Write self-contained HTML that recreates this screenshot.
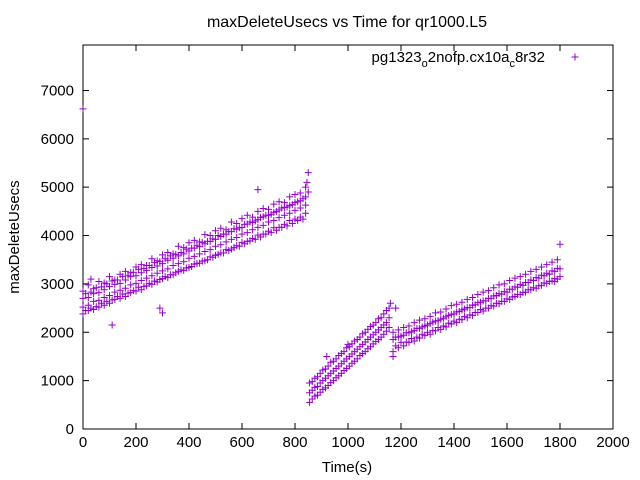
<!DOCTYPE html>
<html><head><meta charset="utf-8"><style>
html,body{margin:0;padding:0;background:#fff;}
svg{display:block;font-family:"Liberation Sans",sans-serif;}
</style></head><body>
<svg id="chart" width="640" height="480" viewBox="0 0 640 480" xmlns="http://www.w3.org/2000/svg">
<rect width="640" height="480" fill="#fff"/>
<text x="347" y="27" font-size="16" text-anchor="middle">maxDeleteUsecs vs Time for qr1000.L5</text>
<text x="347" y="472" font-size="15" text-anchor="middle">Time(s)</text>
<text transform="translate(19,237) rotate(-90)" font-size="15" text-anchor="middle">maxDeleteUsecs</text>
<g id="axes"></g>
<g id="points"></g>
<g>
<text x="545" y="62" font-size="15" text-anchor="end">pg1323<tspan font-size="11" dy="5">o</tspan><tspan dy="-5">2nofp.cx10a</tspan><tspan font-size="11" dy="5">c</tspan><tspan dy="-5">8r32</tspan></text>
<path d="M571.5,57h7M575,53.5v7" stroke="#9400d3" stroke-width="1"/>
</g>
</svg>
<script>
const xTicks=[0,200,400,600,800,1000,1200,1400,1600,1800,2000];
const yTicks=[0,1000,2000,3000,4000,5000,6000,7000];
const seg1X=[0,20,40,60,80,100,120,140,160,180,200,220,240,260,280,300,320,340,360,380,400,420,440,460,480,500,520,540,560,580,600,620,640,660,680,700,720,740,760,780,800,820,840];
const seg1A=[2850,2980,2900,3050,3020,3150,3080,3200,3260,3230,3350,3400,3380,3520,3480,3600,3650,3620,3780,3750,3850,3900,3870,4020,4000,4100,4150,4120,4280,4250,4350,4420,4380,4500,4560,4540,4650,4700,4680,4800,4850,4880,5000];
const seg1B=[2700,2720,2800,2820,2880,2950,2990,3010,3080,3150,3170,3230,3280,3340,3370,3420,3490,3530,3580,3620,3680,3740,3770,3830,3880,3920,3980,4030,4080,4130,4170,4240,4270,4330,4390,4420,4480,4530,4580,4620,4680,4720,4800];
const seg1C=[2520,2560,2640,2660,2720,2760,2830,2870,2910,2980,3010,3070,3120,3170,3220,3270,3310,3380,3420,3460,3530,3570,3620,3670,3710,3780,3810,3870,3920,3960,4030,4060,4120,4170,4210,4280,4310,4370,4420,4460,4520,4570,4630];
const seg1D=[2380,2450,2470,2520,2560,2600,2680,2700,2740,2820,2850,2880,2960,2990,3040,3110,3130,3190,3260,3280,3340,3410,3430,3480,3560,3590,3640,3710,3720,3790,3860,3880,3940,4010,4030,4090,4160,4170,4230,4310,4340,4380,4460];
const seg1X2=[10,30,50,70,90,110,130,150,170,190,210,230,250,270,290,310,330,350,370,390,410,430,450,470,490,510,530,550,570,590,610,630,650,670,690,710,730,750,770,790,810,830];
const seg1E=[2800,2830,2920,2940,3000,3060,3080,3150,3180,3240,3300,3320,3380,3440,3460,3520,3580,3610,3650,3720,3740,3800,3860,3880,3930,4000,4030,4080,4140,4160,4230,4280,4300,4370,4420,4440,4500,4570,4590,4640,4700,4760];
const seg1F=[2450,2500,2530,2600,2640,2670,2740,2790,2810,2860,2930,2950,3010,3060,3090,3150,3190,3230,3290,3330,3360,3420,3470,3500,3550,3610,3640,3690,3750,3780,3830,3890,3920,3970,4030,4060,4110,4170,4200,4250,4310,4340];
const seg2X=[855,865,875,885,895,905,915,925,935,945,955,965,975,985,995,1005,1015,1025,1035,1045,1055,1065,1075,1085,1095,1105,1115,1125,1135,1145,1155];
const seg2A=[950,980,1050,1080,1150,1220,1240,1300,1380,1400,1450,1520,1560,1600,1680,1700,1760,1820,1850,1900,1970,2000,2060,2120,2150,2200,2280,2300,2380,2450,2500];
const seg2B=[750,800,860,880,950,1000,1050,1100,1150,1200,1250,1300,1350,1400,1450,1500,1550,1600,1650,1700,1750,1800,1850,1900,1950,2000,2050,2100,2150,2200,2300];
const seg2C=[550,620,680,700,760,820,850,900,960,1000,1060,1100,1150,1210,1250,1300,1360,1400,1450,1520,1560,1600,1660,1700,1760,1810,1850,1900,1960,2020,2100];
const seg3X=[1170,1190,1210,1230,1250,1270,1290,1310,1330,1350,1370,1390,1410,1430,1450,1470,1490,1510,1530,1550,1570,1590,1610,1630,1650,1670,1690,1710,1730,1750,1770,1790];
const seg3A=[2000,2050,2100,2130,2200,2250,2280,2330,2400,2420,2480,2550,2580,2620,2680,2720,2780,2830,2860,2920,2980,3000,3070,3120,3150,3200,3260,3300,3350,3400,3450,3500];
const seg3B=[1850,1900,1940,1990,2040,2080,2130,2180,2230,2270,2320,2370,2420,2460,2510,2560,2610,2650,2700,2750,2800,2840,2890,2940,2990,3030,3080,3130,3180,3220,3270,3320];
const seg3C=[1600,1680,1720,1790,1820,1880,1930,1960,2030,2060,2110,2170,2200,2260,2300,2350,2410,2440,2500,2540,2590,2640,2680,2740,2780,2830,2880,2910,2970,3010,3060,3100];
const seg3X2=[1180,1200,1220,1240,1260,1280,1300,1320,1340,1360,1380,1400,1420,1440,1460,1480,1500,1520,1540,1560,1580,1600,1620,1640,1660,1680,1700,1720,1740,1760,1780,1800];
const seg3D=[1900,1920,1990,2010,2080,2110,2150,2210,2240,2290,2350,2380,2430,2480,2510,2570,2620,2650,2700,2760,2790,2830,2890,2930,2970,3030,3070,3120,3170,3200,3260,3310];
const seg3E=[1720,1790,1800,1870,1900,1960,2000,2040,2100,2130,2190,2230,2270,2330,2360,2410,2470,2500,2550,2600,2640,2690,2730,2780,2820,2880,2920,2960,3020,3050,3110,3150];
const outX=[0,30,110,290,300,660,845,850,850,920,1000,1160,1180,1170,1780,1800];
const outY=[6620,3100,2150,2500,2400,4950,5100,5300,4900,1500,1750,2600,2500,1500,3050,3820];

const L=83,R=613,T=45,B=429,XMAX=2000,YMAX=7940;
const sx=v=>L+(v/XMAX)*(R-L);
const sy=v=>B-(v/YMAX)*(B-T);
const NS='http://www.w3.org/2000/svg';
const axes=document.getElementById('axes');
const pts=document.getElementById('points');
function mk(tag,attrs,parent){const e=document.createElementNS(NS,tag);for(const k in attrs)e.setAttribute(k,attrs[k]);parent.appendChild(e);return e;}
const border=mk('rect',{x:L,y:T,width:R-L,height:B-T,fill:'none',stroke:'#000','stroke-width':1},axes);


xTicks.forEach(v=>{
  const x=sx(v);
  const t=mk('path',{d:`M${x},${B}v-6M${x},${T}v6`,stroke:'#000','stroke-width':1},axes);
  
  
  const lb=mk('text',{x:x,y:B+18,'font-size':15,'text-anchor':'middle'},axes);
  lb.textContent=v;
  
  
});
yTicks.forEach(v=>{
  const y=sy(v);
  const t=mk('path',{d:`M${L},${y}h6M${R},${y}h-6`,stroke:'#000','stroke-width':1},axes);
  
  
  const lb=mk('text',{x:L-9,y:y+5,'font-size':15,'text-anchor':'end'},axes);
  lb.textContent=v;
  
  
});
function plus(xv,yv){
  if(xv===undefined||yv===undefined)return;
  const x=sx(xv),y=sy(yv);
  const p=mk('path',{d:`M${x-3.5},${y}h7M${x},${y-3.5}v7`,stroke:'#9400d3','stroke-width':1},pts);
  
  
}
[[seg1X,[seg1A,seg1B,seg1C,seg1D]],[seg1X2,[seg1E,seg1F]],[seg2X,[seg2A,seg2B,seg2C]],[seg3X,[seg3A,seg3B,seg3C]],[seg3X2,[seg3D,seg3E]]].forEach(([xs,ys])=>{
  ys.forEach(arr=>arr.forEach((v,i)=>plus(xs[i],v)));
});
outX.forEach((v,i)=>plus(v,outY[i]));
</script>
</body></html>
